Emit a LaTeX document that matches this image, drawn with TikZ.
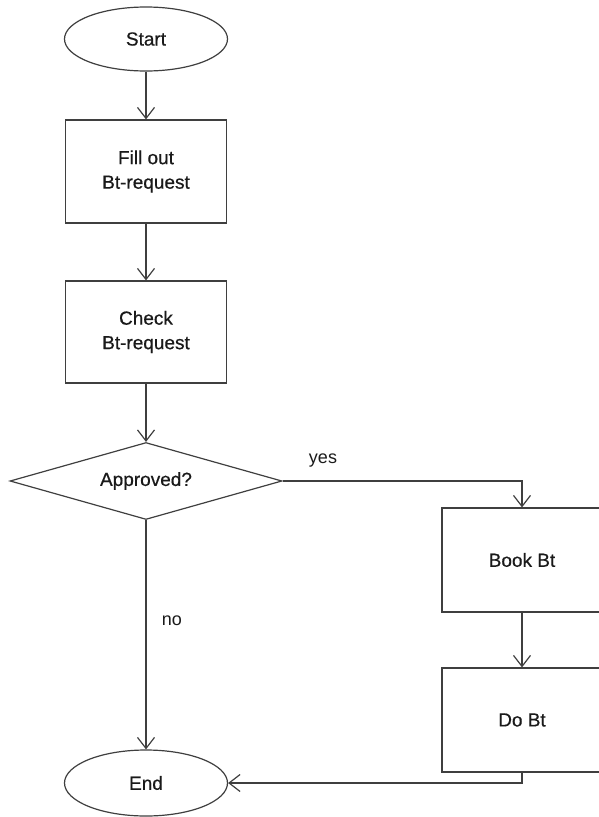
\documentclass[tikz,border=0pt]{standalone}
\usepackage{fontspec}
\setmainfont{Liberation Sans}
\newfontfamily\nodefont{Liberation Sans}[UprightFeatures={FakeBold=0.5}]
\usetikzlibrary{shapes.geometric,arrows.meta}
\definecolor{linec}{HTML}{3F3F3F}
\definecolor{txtc}{HTML}{1A1A1A}
\tikzset{
  every node/.style={font=\nodefont\fontsize{19}{24.5}\selectfont, text=txtc},
  term/.style={ellipse, draw=linec, line width=1.2pt, minimum width=163pt, minimum height=64pt, inner sep=0pt, fill=white},
  procbox/.style={rectangle, draw=linec, line width=1.2pt, minimum width=161pt, minimum height=103pt, align=center, inner sep=0pt, fill=white},
  decide/.style={diamond, draw=linec, line width=1.2pt, minimum width=272pt, minimum height=77pt, aspect=3.5, inner sep=0pt, fill=white},
  conn/.style={draw=linec, line width=1.2pt, -{Straight Barb[length=11pt,width=17pt,line width=1.2pt]}},
  lbl/.style={font=\rmfamily\fontsize{18}{22}\selectfont}
}
\begin{document}
\begin{tikzpicture}[x=1pt,y=-1pt]
\useasboundingbox (0,0) rectangle (598,817);
\node[term] (start) at (146,39) {Start};
\node[procbox] (fill) at (146,171.5) {Fill out\\Bt-request};
\node[procbox, minimum height=102pt] (check) at (146,332) {Check\\Bt-request};
\node[decide] (appr) at (146,481) {Approved?};
\node[procbox, minimum width=160pt, minimum height=104pt] (book) at (522,560) {Book Bt};
\node[procbox, minimum width=160pt, minimum height=104pt] (dobt) at (522,720) {Do Bt};
\node[term, minimum height=66pt] (end) at (146,783) {End};
\coordinate (yc) at (522,481);
\coordinate (dc) at (522,783);
\draw[conn] (start) -- (fill);
\draw[conn] (fill) -- (check);
\draw[conn] (check) -- (appr);
\draw[conn] (appr.east) -- (yc) -- (book.north);
\draw[conn] (book) -- (dobt);
\draw[conn] (dobt.south) -- (dc) -- (end.east);
\draw[conn] (appr.south) -- (end.north);
\node[lbl] (yes) at (323,461) {yes};
\node[lbl] (no) at (172,621) {no};
\end{tikzpicture}
\end{document}
